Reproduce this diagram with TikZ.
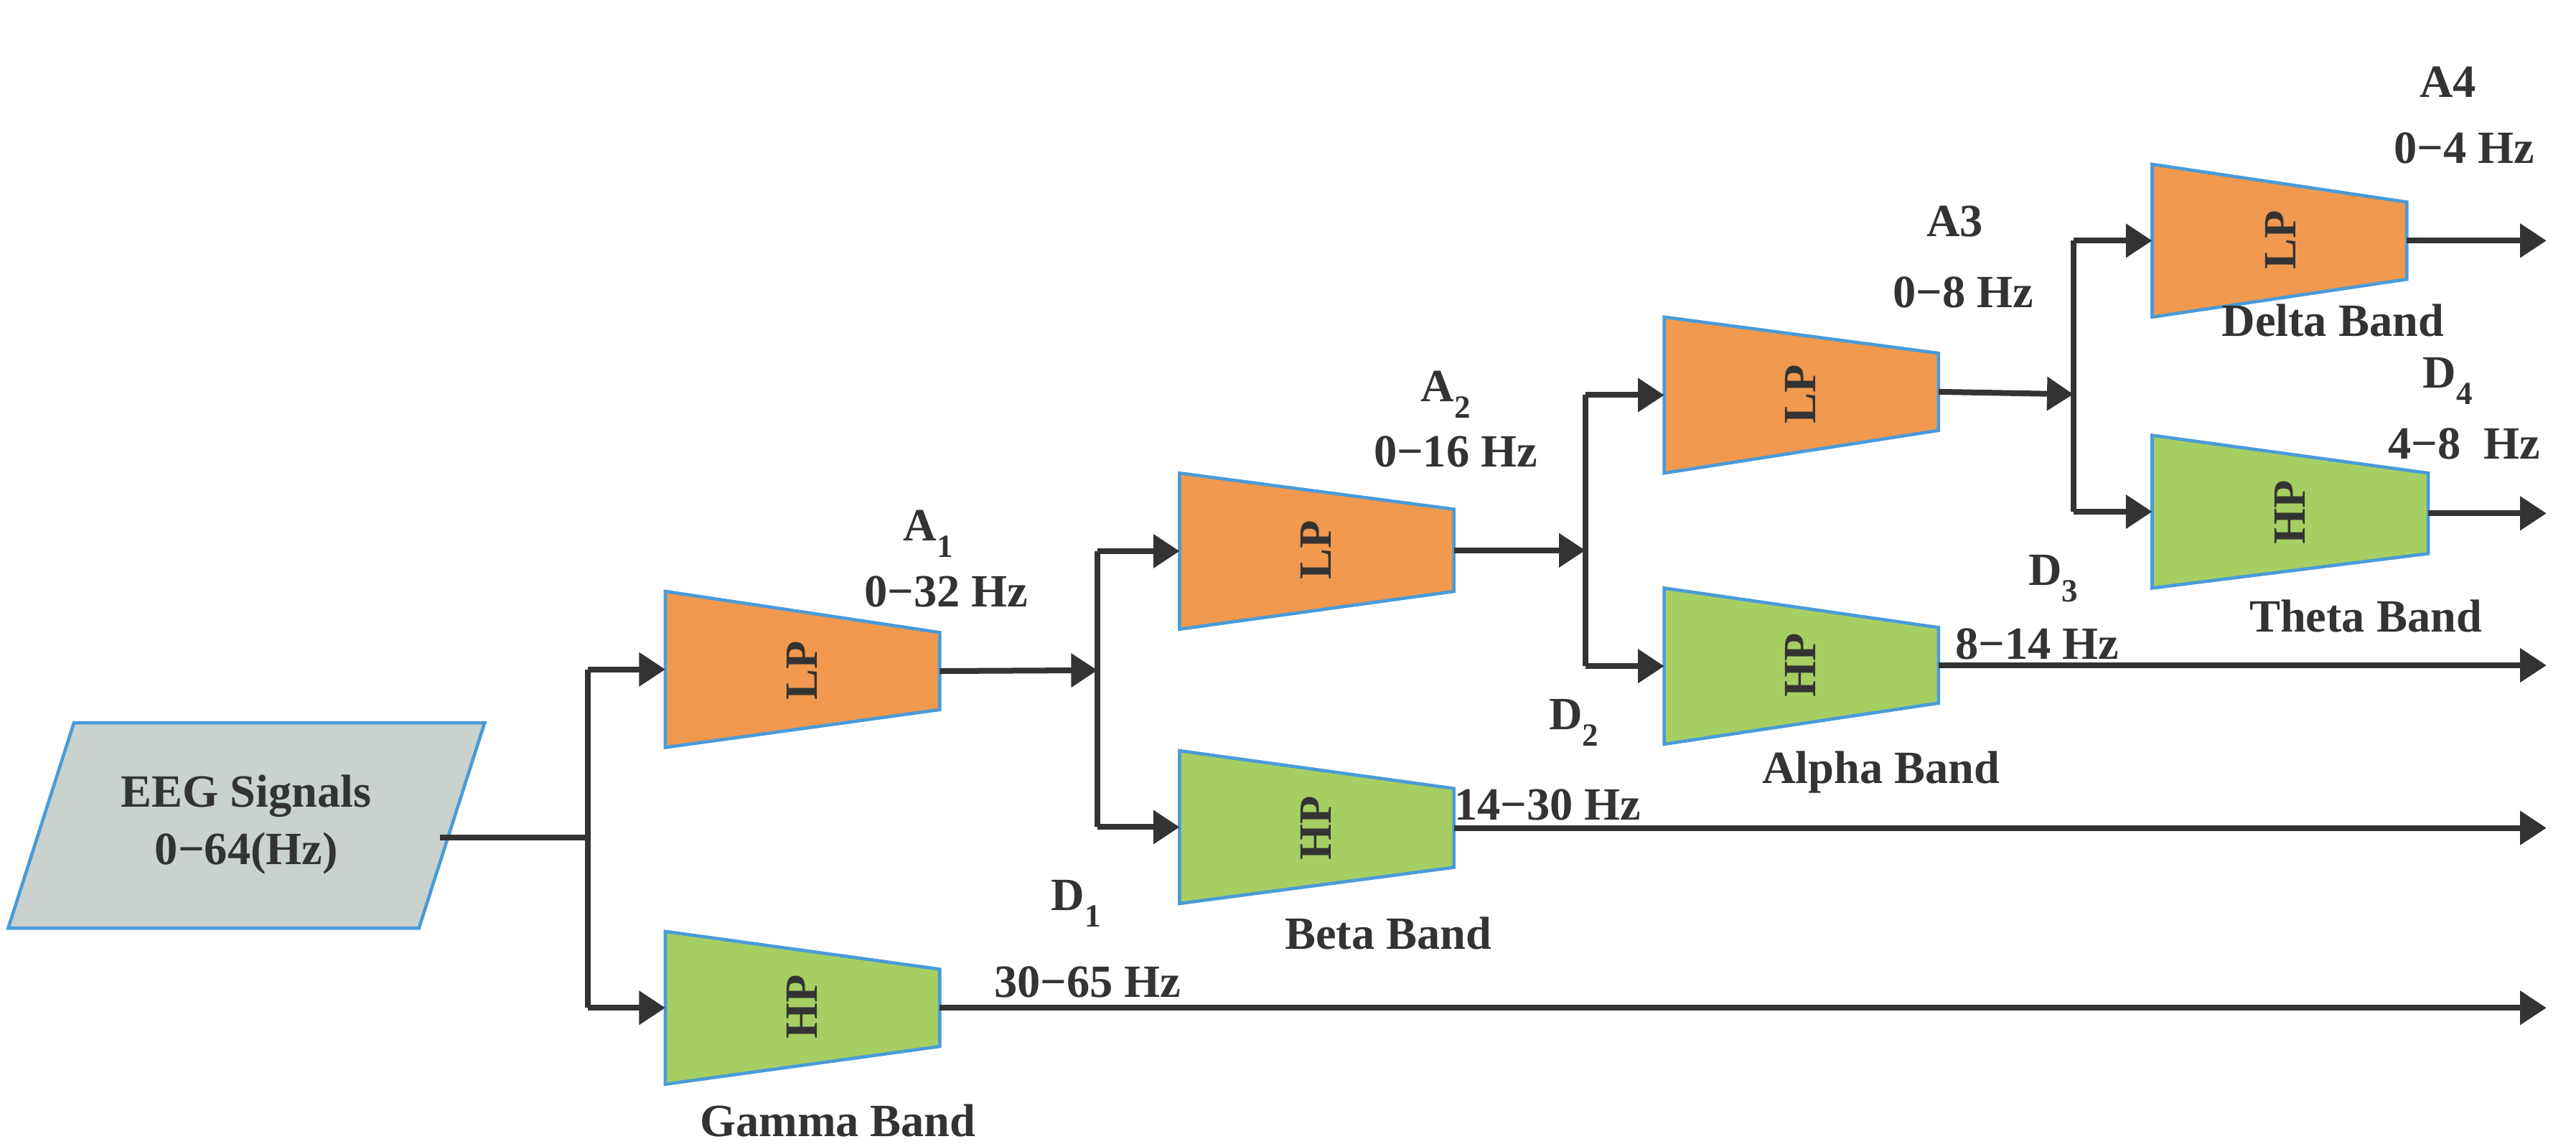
\documentclass[tikz,border=0pt]{standalone}
\usepackage{fontspec}
\setmainfont{Liberation Serif}
\usetikzlibrary{arrows.meta}
\definecolor{lpc}{HTML}{F0994F}
\definecolor{hpc}{HTML}{A5CF63}
\definecolor{edge}{HTML}{4A9BD8}
\definecolor{eegc}{HTML}{C9D2CE}
\definecolor{ink}{HTML}{333333}
\newcommand\mn{\char"2212\relax}
\begin{document}
\begin{tikzpicture}[x=1mm,y=-1mm,
  wire/.style={ink,line width=3.5mm},
  arr/.style={wire,-{Triangle[length=16mm,width=20mm]}},
  shp/.style={draw=edge,line width=2mm},
  lbl/.style={ink,font=\fontsize{80}{88}\selectfont\bfseries,inner sep=0pt},
  flt/.style={lbl,rotate=90}]
\useasboundingbox (0,0) rectangle (1568,696);
% EEG
\filldraw[shp,fill=eegc] (45,440) -- (295,440) -- (255,565) -- (5,565) -- cycle;
\node[lbl,align=center] (eeg) at (150,502) {EEG Signals\\[4mm]0\mn64(Hz)};
\coordinate (eo) at (268,510);
% trapezoids
\newcommand\trap[8]{% name fill xl ytl ybl xr ytr ybr
  \filldraw[shp,fill=#2] (#3,#4) -- (#6,#7) -- (#6,#8) -- (#3,#5) -- cycle;
  \coordinate (#1in) at (#3,{(#4+#5)/2});
  \coordinate (#1out) at (#6,{(#7+#8)/2});}
\trap{l1}{lpc}{405}{360}{455}{572}{385}{432}
\trap{h1}{hpc}{405}{567}{660}{572}{590}{637}
\trap{l2}{lpc}{718}{288}{383}{885}{310}{360}
\trap{h2}{hpc}{718}{457}{550}{885}{480}{528}
\trap{l3}{lpc}{1013}{193}{288}{1180}{215}{262}
\trap{h3}{hpc}{1013}{358}{453}{1180}{382}{428}
\trap{l4}{lpc}{1310}{100}{193}{1465}{123}{170}
\trap{h4}{hpc}{1310}{265}{358}{1478}{288}{337}
\node[flt] (tl1) at (488,408) {LP};
\node[flt] (th1) at (488,613) {HP};
\node[flt] (tl2) at (801,335) {LP};
\node[flt] (th2) at (801,504) {HP};
\node[flt] (tl3) at (1096,240) {LP};
\node[flt] (th3) at (1096,405) {HP};
\node[flt] (tl4) at (1388,146) {LP};
\node[flt] (th4) at (1394,312) {HP};
% junctions
\coordinate (j1) at (358,510);
\coordinate (j2) at (668,408);
\coordinate (j3) at (965,335);
\coordinate (j4) at (1262,240);
\draw[wire] (eo) -- (j1);
\draw[wire] (l1in -| j1) -- (h1in -| j1);
\draw[arr] (l1in -| j1) -- (l1in);
\draw[arr] (h1in -| j1) -- (h1in);
\draw[arr] (l1out) -- (j2);
\draw[wire] (l2in -| j2) -- (h2in -| j2);
\draw[arr] (l2in -| j2) -- (l2in);
\draw[arr] (h2in -| j2) -- (h2in);
\draw[arr] (l2out) -- (j3);
\draw[wire] (l3in -| j3) -- (h3in -| j3);
\draw[arr] (l3in -| j3) -- (l3in);
\draw[arr] (h3in -| j3) -- (h3in);
\draw[arr] (l3out) -- (j4);
\draw[wire] (l4in -| j4) -- (h4in -| j4);
\draw[arr] (l4in -| j4) -- (l4in);
\draw[arr] (h4in -| j4) -- (h4in);
\coordinate (e) at (1550,0);
\draw[arr] (l4out) -- (l4out -| e);
\draw[arr] (h4out) -- (h4out -| e);
\draw[arr] (h3out) -- (h3out -| e);
\draw[arr] (h2out) -- (h2out -| e);
\draw[arr] (h1out) -- (h1out -| e);
% labels
\node[lbl] (a1) at (565,325) {A\textsubscript{1}};
\node[lbl] (f1) at (576,360) {0\mn32 Hz};
\node[lbl] (a2) at (880,240) {A\textsubscript{2}};
\node[lbl] (f2) at (886,275) {0\mn16 Hz};
\node[lbl] (a3) at (1190,135) {A3};
\node[lbl] (f3) at (1195,178) {0\mn8 Hz};
\node[lbl] (a4) at (1490,50) {A4};
\node[lbl] (f4) at (1500,90) {0\mn4 Hz};
\node[lbl] (db) at (1420,195) {Delta Band};
\node[lbl] (d4) at (1490,232) {D\textsubscript{4}};
\node[lbl] (g4) at (1500,270) {4\mn8\ \ Hz};
\node[lbl] (tb) at (1440,375) {Theta Band};
\node[lbl] (d3) at (1250,352) {D\textsubscript{3}};
\node[lbl] (g3) at (1240,392) {8\mn14 Hz};
\node[lbl] (ab) at (1145,470) {Alpha Band};
\node[lbl] (d2) at (958,440) {D\textsubscript{2}};
\node[lbl] (g2) at (942,490) {14\mn30 Hz};
\node[lbl] (bb) at (845,568) {Beta Band};
\node[lbl] (d1) at (655,550) {D\textsubscript{1}};
\node[lbl] (g1) at (662,598) {30\mn65 Hz};
\node[lbl] (gb) at (510,682) {Gamma Band};
\end{tikzpicture}
\end{document}
